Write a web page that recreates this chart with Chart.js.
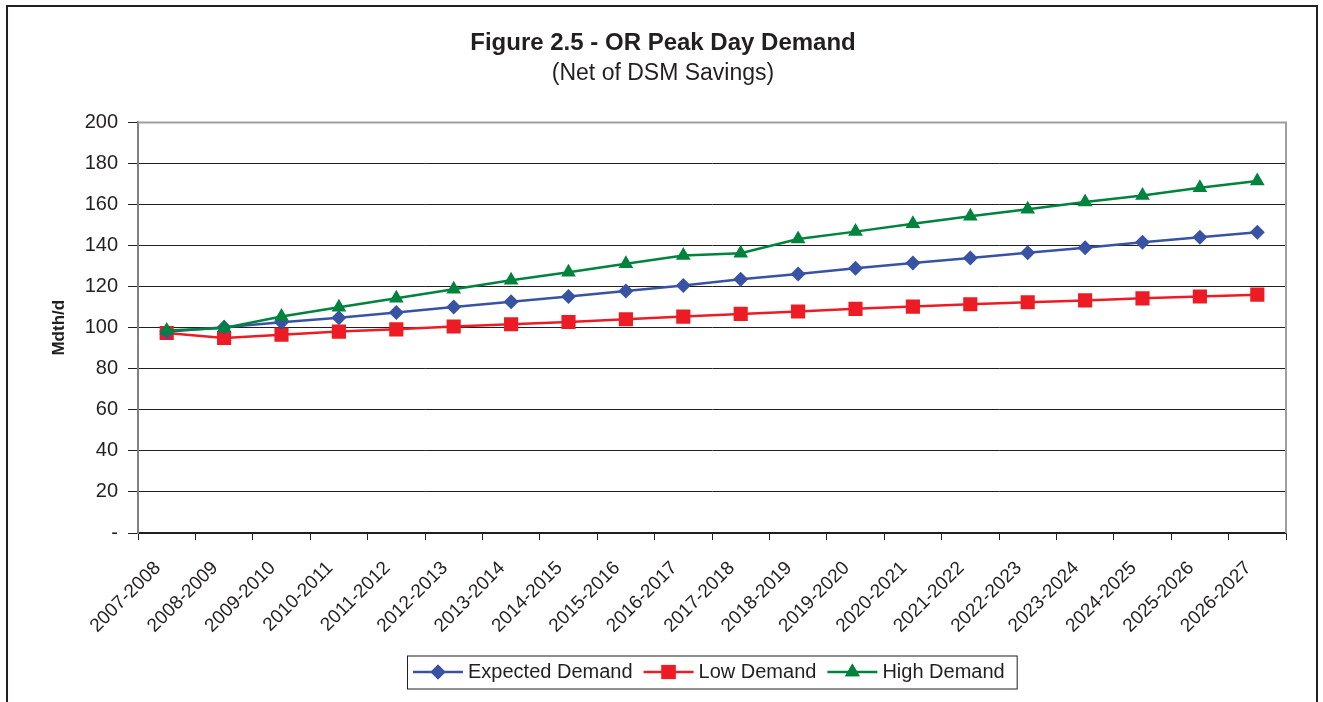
<!DOCTYPE html>
<html>
<head>
<meta charset="utf-8">
<title>Figure 2.5 - OR Peak Day Demand</title>
<script src="https://cdn.jsdelivr.net/npm/chart.js@4.4.1/dist/chart.umd.min.js"></script>
<style>
  html, body { margin: 0; padding: 0; background: #fff; overflow: hidden; }
  #frame {
    position: absolute; left: 6px; top: 5px; width: 1308px; height: 720px;
    border: 2px solid #231f20;
  }
  #myChart { position: absolute; left: 0; top: 0; }
</style>
</head>
<body>
<div id="frame"></div>
<canvas id="myChart" width="1323" height="702"></canvas>
<script>
// số liệu
const years = ['2007-2008', '2008-2009', '2009-2010', '2010-2011', '2011-2012', '2012-2013', '2013-2014',
  '2014-2015', '2015-2016', '2016-2017', '2017-2018', '2018-2019', '2019-2020', '2020-2021', '2021-2022',
  '2022-2023', '2023-2024', '2024-2025', '2025-2026', '2026-2027'];
const expectedDemand = [98, 100.2, 102.7, 104.9, 107.4, 110.1, 112.6, 115.2, 117.9, 120.5,
  123.6, 126.1, 129, 131.5, 134, 136.5, 139, 141.6, 144, 146.5];
const lowDemand = [97.4, 95, 96.6, 98.1, 99.2, 100.6, 101.7, 102.8, 104.1, 105.4,
  106.7, 107.9, 109.2, 110.3, 111.4, 112.4, 113.3, 114.3, 115.2, 116.1];
const highDemand = [98.6, 99.9, 105.5, 110, 114.3, 118.7, 123.1, 127, 131.1, 135.2,
  136.3, 143.2, 146.8, 150.6, 154.3, 157.7, 161.2, 164.4, 168.2, 171.5];
const yTicks = { min: 0, max: 200, step: 20 };

const FONT = "'Liberation Sans', Arial, sans-serif";
const INK = '#231f20';

// viền trên + phải của vùng vẽ (màu xám)
const plotBorder = {
  id: 'plotBorder',
  beforeDatasetsDraw(chart) {
    const { ctx, chartArea: a } = chart;
    ctx.save();
    ctx.strokeStyle = '#9d9fa2';
    ctx.lineWidth = 2;
    ctx.beginPath();
    ctx.moveTo(a.left, a.top);
    ctx.lineTo(a.right, a.top);
    ctx.lineTo(a.right, a.bottom);
    ctx.stroke();
    ctx.restore();
  }
};

// chú thích kiểu Excel: đường + điểm
const lineLegend = {
  id: 'lineLegend',
  afterDraw(chart) {
    const { ctx, chartArea: a } = chart;
    const sets = chart.data.datasets;
    ctx.save();
    ctx.font = '20px ' + FONT;
    const lineLen = 50, gap = 5, spacing = 11, padL = 6, padR = 12;
    let total = padL + padR;
    sets.forEach((ds, i) => {
      total += lineLen + gap + ctx.measureText(ds.label).width;
      if (i < sets.length - 1) total += spacing;
    });
    const boxH = 33;
    const cy = 672;
    let x = Math.round((a.left + a.right) / 2 - total / 2);
    ctx.strokeStyle = INK;
    ctx.lineWidth = 1;
    ctx.strokeRect(x + 0.5, cy - boxH / 2 + 0.5, total, boxH);
    x += padL;
    sets.forEach(ds => {
      ctx.strokeStyle = ds.borderColor;
      ctx.lineWidth = ds.borderWidth;
      ctx.beginPath();
      ctx.moveTo(x, cy);
      ctx.lineTo(x + lineLen, cy);
      ctx.stroke();
      ctx.fillStyle = ds.pointBackgroundColor;
      Chart.helpers.drawPoint(ctx, { pointStyle: ds.pointStyle, radius: ds.pointRadius, rotation: 0, borderWidth: 0 }, x + lineLen / 2, cy);
      ctx.fill();
      x += lineLen + gap;
      ctx.fillStyle = INK;
      ctx.textBaseline = 'middle';
      ctx.textAlign = 'left';
      ctx.fillText(ds.label, x, cy);
      x += ctx.measureText(ds.label).width + spacing;
    });
    ctx.restore();
  }
};

const ctx = document.getElementById('myChart').getContext('2d');
const myChart = new Chart(ctx, {
  type: 'line',
  data: {
    labels: years,
    datasets: [{
      label: 'Expected Demand',
      data: expectedDemand,
      borderColor: '#3953a4',
      backgroundColor: '#3953a4',
      pointBackgroundColor: '#3953a4',
      pointBorderWidth: 0,
      borderWidth: 2.5,
      pointStyle: 'rectRot',
      pointRadius: 7.5,
      order: 2
    }, {
      label: 'Low Demand',
      data: lowDemand,
      borderColor: '#ed1c24',
      backgroundColor: '#ed1c24',
      pointBackgroundColor: '#ed1c24',
      pointBorderWidth: 0,
      borderWidth: 2.5,
      pointStyle: 'rect',
      pointRadius: 10,
      order: 3
    }, {
      label: 'High Demand',
      data: highDemand,
      borderColor: '#00843d',
      backgroundColor: '#00843d',
      pointBackgroundColor: '#00843d',
      pointBorderWidth: 0,
      borderWidth: 2.5,
      pointStyle: 'triangle',
      pointRadius: 8.5,
      order: 1
    }]
  },
  options: {
    responsive: false,
    animation: false,
    devicePixelRatio: 1,
    layout: { padding: { left: 40, right: 37, top: 0, bottom: 0 } },
    plugins: {
      legend: { display: false },
      tooltip: { enabled: false },
      title: {
        display: true,
        text: 'Figure 2.5 - OR Peak Day Demand',
        color: INK,
        font: { family: FONT, size: 24, weight: 'bold' },
        padding: { top: 29, bottom: 0 }
      },
      subtitle: {
        display: true,
        text: '(Net of DSM Savings)',
        color: INK,
        font: { family: FONT, size: 23, weight: 'normal' },
        padding: { top: 2, bottom: 35 }
      }
    },
    scales: {
      x: {
        offset: true,
        grid: { offset: true, drawOnChartArea: false, tickLength: 7, tickColor: INK, tickWidth: 1 },
        border: { color: INK, width: 1.5 },
        ticks: {
          color: INK,
          font: { family: FONT, size: 19 },
          maxRotation: 45,
          minRotation: 45,
          autoSkip: false,
          labelOffset: -9,
          padding: 17
        },
        afterFit: (scale) => { scale.height = 169; }
      },
      y: {
        min: yTicks.min,
        max: yTicks.max,
        grid: {
          color: (c) => c.tick && c.tick.value === yTicks.max ? 'rgba(0,0,0,0)' : INK,
          lineWidth: 1,
          tickLength: 10,
          tickColor: INK
        },
        border: { color: '#808285', width: 2 },
        ticks: {
          stepSize: yTicks.step,
          color: INK,
          padding: 10,
          font: { family: FONT, size: 20 },
          callback: (v) => v === 0 ? '-' : v
        },
        title: {
          display: true,
          text: 'Mdth/d',
          color: INK,
          font: { family: FONT, size: 17, weight: 'bold' },
          padding: { top: 9, bottom: 0 }
        },
        afterFit: (scale) => { scale.width = 98; }
      }
    }
  },
  plugins: [plotBorder, lineLegend]
});
</script>
</body>
</html>
